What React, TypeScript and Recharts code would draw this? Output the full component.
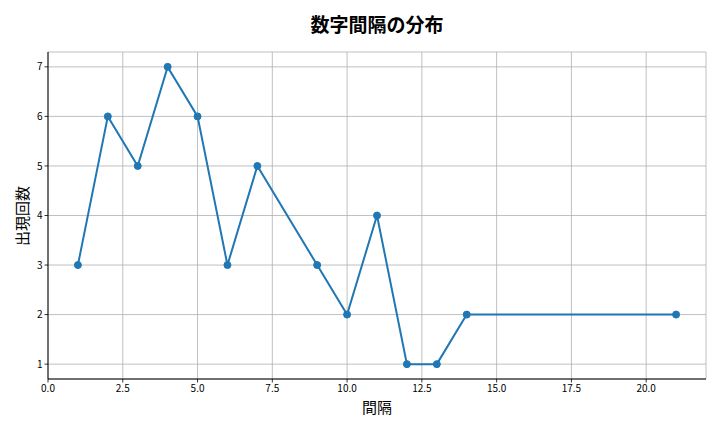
import React from "react";
import { LineChart, Line, XAxis, YAxis, CartesianGrid } from "recharts";

const intervals = [1, 2, 3, 4, 5, 6, 7, 9, 10, 11, 12, 13, 14, 21];
const counts = [3, 6, 5, 7, 6, 3, 5, 3, 2, 4, 1, 1, 2, 2];
const xTicks = [0, 2.5, 5, 7.5, 10, 12.5, 15, 17.5, 20];
const yTicks = [1, 2, 3, 4, 5, 6, 7];
const title = "数字間隔の分布";
const xLabel = "間隔";
const yLabel = "出現回数";

const data = intervals.map((x, i) => ({ x, y: counts[i] }));
const FONT = '"Noto Sans CJK JP", "DejaVu Sans", sans-serif';

export default function App() {
  const tickStyle = { fontSize: 10, fill: "#000", fontFamily: FONT };
  return (
    <div style={{ position: "absolute", left: 0, top: 0, width: 720, height: 432, background: "#fff", fontFamily: FONT }}>
      <LineChart
        width={720}
        height={432}
        data={data}
        margin={{ top: 52, right: 14, bottom: 0, left: 0 }}
      >
        <CartesianGrid stroke="#b0b0b0" strokeWidth={0.8} horizontal vertical />
        <XAxis
          dataKey="x"
          type="number"
          domain={[0, 22]}
          ticks={xTicks}
          tickFormatter={(v: number) => v.toFixed(1)}
          tick={tickStyle}
          tickSize={3.5}
          tickMargin={2}
          stroke="#000"
          axisLine={{ stroke: "#000", strokeWidth: 1 }}
          tickLine={{ stroke: "#000", strokeWidth: 0.8 }}
          height={53}
          interval={0}
          allowDataOverflow
        />
        <XAxis xAxisId="top" orientation="top" type="number" domain={[0, 22]} dataKey="x" tick={false} tickLine={false} height={0} axisLine={{ stroke: "#000", strokeWidth: 1 }} />
        <YAxis
          type="number"
          domain={[0.7, 7.3]}
          ticks={yTicks}
          tick={tickStyle}
          tickSize={3.5}
          tickMargin={2}
          width={48}
          axisLine={{ stroke: "#000", strokeWidth: 1 }}
          tickLine={{ stroke: "#000", strokeWidth: 0.8 }}
          interval={0}
          allowDataOverflow
        />
        <YAxis yAxisId="right" orientation="right" type="number" domain={[0.7, 7.3]} tick={false} tickLine={false} width={0} axisLine={{ stroke: "#000", strokeWidth: 1 }} />
        <Line
          type="linear"
          dataKey="y"
          stroke="#1f77b4"
          strokeWidth={2}
          dot={{ r: 3.5, fill: "#1f77b4", stroke: "#1f77b4", strokeWidth: 1 }}
          activeDot={false}
          isAnimationActive={false}
        />
      </LineChart>
      <div style={{ position: "absolute", left: 48, width: 658, top: 10, textAlign: "center", fontSize: 19, fontWeight: "bold", lineHeight: "28px" }}>
        {title}
      </div>
      <div style={{ position: "absolute", left: 48, width: 658, top: 395, textAlign: "center", fontSize: 15, lineHeight: "24px" }}>
        {xLabel}
      </div>
      <div
        style={{
          position: "absolute",
          left: 22,
          top: 216,
          transform: "translate(-50%, -50%) rotate(-90deg)",
          fontSize: 15,
          lineHeight: "24px",
          whiteSpace: "nowrap",
        }}
      >
        {yLabel}
      </div>
    </div>
  );
}
